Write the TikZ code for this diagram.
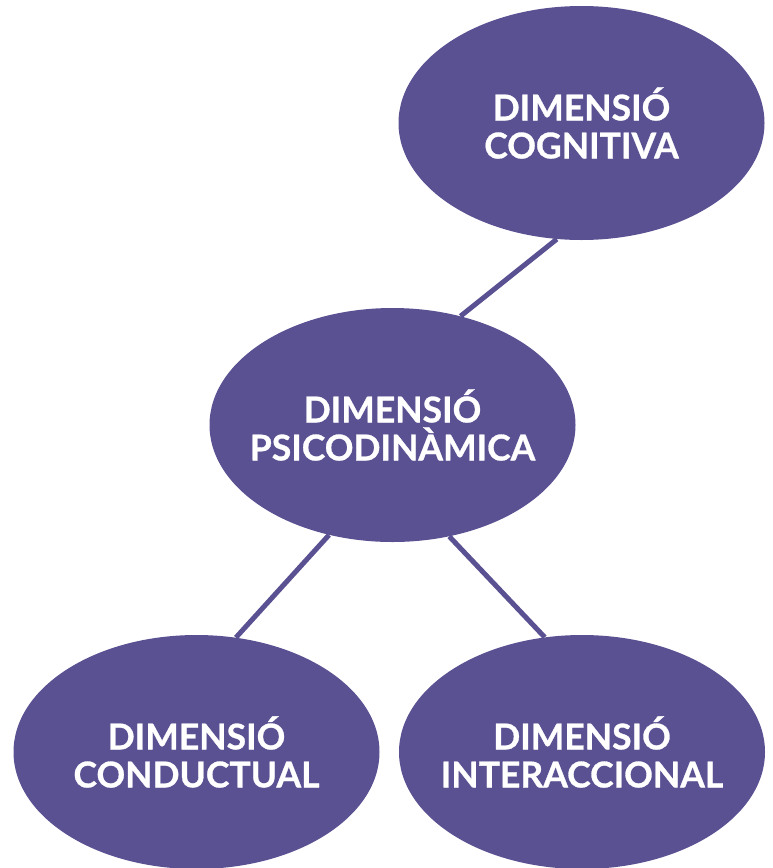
\documentclass[tikz,border=0pt]{standalone}
\usepackage{fontspec}
\setmainfont{Lato}[BoldFeatures={FakeBold=0.8}]
\usetikzlibrary{shapes.geometric}
\definecolor{dimpurple}{RGB}{90,81,147}
\tikzset{
  dimnode/.style={ellipse, fill=dimpurple, draw=none, minimum width=366pt, minimum height=234pt,
    inner xsep=-60pt, inner ysep=0pt, text=white, align=center,
    font=\fontsize{35.5}{38}\selectfont\bfseries},
  link/.style={draw=dimpurple, line width=5pt}
}
\begin{document}
\begin{tikzpicture}[x=1pt,y=-1pt]
\useasboundingbox (0,0) rectangle (773,868);
\node[dimnode] (cog) at (581.5,123) {DIMENSIÓ\\COGNITIVA};
\node[dimnode] (psi) at (392.5,425) {DIMENSIÓ\\PSICODINÀMICA};
\node[dimnode] (con) at (196.5,752) {DIMENSIÓ\\CONDUCTUAL};
\node[dimnode] (int) at (582,752) {DIMENSIÓ\\INTERACCIONAL};
\draw[link] (cog.258) -- (psi.58.6);
\draw[link] (psi.240.6) -- (con.71.3);
\draw[link] (psi.297.4) -- (int.108.9);
\end{tikzpicture}
\end{document}
